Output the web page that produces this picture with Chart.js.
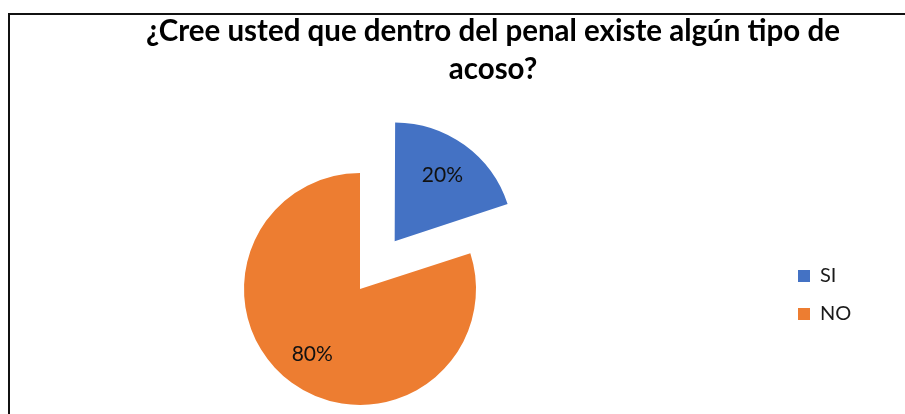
<!DOCTYPE html>
<html>
<head>
<meta charset="utf-8">
<script src="https://cdn.jsdelivr.net/npm/chart.js@4.4.0/dist/chart.umd.min.js"></script>
<style>
  html, body { margin: 0; padding: 0; background: #fff; overflow: hidden; }
  body { width: 905px; height: 414px; position: relative; }
  /* canvas is wider/taller than the window so the pie, title and legend land where the original has them */
  #wrap { position: absolute; left: -66px; top: 0; width: 1112px; height: 478px; }
  #frame { position: absolute; left: 8px; top: 13px; right: 0; bottom: 0;
           border-top: 2px solid #111; border-left: 2px solid #111; pointer-events: none; }
</style>
</head>
<body>
<div id="wrap"><canvas id="acosoChart"></canvas></div>
<div id="frame"></div>
<script>
// Survey answer: ¿Cree usted que dentro del penal existe algún tipo de acoso?
const titleLines = ['¿Cree usted que dentro del penal existe algún tipo de', 'acoso?'];
const categories = ['SI', 'NO'];
const percentages = [20, 80];

// percentage text inside each slice (no datalabels plugin available)
const sliceLabels = {
  id: 'sliceLabels',
  afterDatasetsDraw(chart) {
    const ctx = chart.ctx;
    const meta = chart.getDatasetMeta(0);
    const total = percentages.reduce((a, b) => a + b, 0);
    ctx.save();
    ctx.font = '21px Lato';
    ctx.fillStyle = '#111';
    ctx.textAlign = 'center';
    ctx.textBaseline = 'middle';
    meta.data.forEach((arc, i) => {
      const p = arc.getProps(['x', 'y', 'startAngle', 'endAngle', 'outerRadius'], true);
      const mid = (p.startAngle + p.endAngle) / 2;
      const dist = (arc.options.offset || 0) / 4 + p.outerRadius * 0.7;
      const txt = Math.round(percentages[i] / total * 100) + '%';
      ctx.fillText(txt, p.x + Math.cos(mid) * dist, p.y + Math.sin(mid) * dist);
    });
    ctx.restore();
  }
};

// widen the legend box so the pie sits left of the title centre, like the original
const legendWidth = {
  id: 'legendWidth',
  beforeInit(chart) {
    if (!chart.legend) return;
    const fit = chart.legend.fit;
    chart.legend.fit = function () {
      fit.call(this);
      this.width = 266;
    };
  }
};

new Chart(document.getElementById('acosoChart'), {
  type: 'pie',
  data: {
    labels: categories,
    datasets: [{
      data: percentages,
      backgroundColor: ['#4472C4', '#ED7D31'],
      borderWidth: 0,
      offset: [236, 0] // SI slice pulled out
    }]
  },
  options: {
    responsive: true,
    maintainAspectRatio: false,
    animation: false,
    events: [],
    radius: 116,
    layout: { padding: { left: 6 } },
    plugins: {
      title: {
        display: true,
        text: titleLines,
        color: '#000',
        font: { family: 'Lato', size: 29.5, weight: 'bold', lineHeight: 38 / 29.5 },
        padding: { top: 12, bottom: 12 }
      },
      legend: {
        position: 'right',
        fullSize: false,
        title: { display: true, text: ' ', font: { size: 10, lineHeight: 1.2 }, padding: 0 },
        labels: {
          boxWidth: 12,
          boxHeight: 12,
          padding: 18,
          color: '#1a1a1a',
          font: { family: 'Lato', size: 20 }
        }
      },
      tooltip: { enabled: false }
    }
  },
  plugins: [sliceLabels, legendWidth]
});
</script>
</body>
</html>
